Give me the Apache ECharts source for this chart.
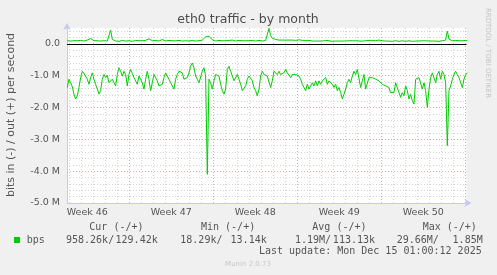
<!DOCTYPE html>
<html><head><meta charset="utf-8">
<script src="https://cdn.jsdelivr.net/npm/echarts@6/dist/echarts.min.js"></script>
<style>html,body{margin:0;padding:0;background:#f0f0f0}#c{width:497px;height:275px}</style>
</head><body><div id="c"></div>
<script>
// ---- texts ----
const TITLE = 'eth0 traffic - by month';
const Y_NAME = 'bits in (-) / out (+) per second';
const SIDE_TEXT = 'RRDTOOL / TOBI OETIKER';
const LEGEND_NAME = 'bps';
const COL_HEADERS = ['Cur (-/+)', 'Min (-/+)', 'Avg (-/+)', 'Max (-/+)'];
const COL_IN = ['958.26k/', '18.29k/', '1.19M/', '29.66M/'];
const COL_OUT = ['129.42k', '13.14k', '113.13k', '1.85M'];
const LAST_UPDATE = 'Last update: Mon Dec 15 01:00:12 2025';
const FOOTER = 'Munin 2.0.73';

// ---- x axis (days since Mon 10 Nov 2025 00:00) ----
const WEEK_LABELS = ['Week 46', 'Week 47', 'Week 48', 'Week 49', 'Week 50'];
const WEEK_CENTERS = [3.5, 10.5, 17.5, 24.5, 31.5];
const WEEK_STARTS = [7, 14, 21, 28, 35];
const X_MIN = 1.81, X_MAX = 35.1;
const T0 = 1.835, STEP = 5 / 36;   // sample times (days)

// ---- y axis (M bits/s) ----
const Y_MAJOR = [-5, -4, -3, -2, -1, 0];
const Y_MIN = -5, Y_MAX = 0.5;

// ---- series (M bits/s) ----
const OUT_M = [
 0.10,0.12,0.09,0.11,0.10,0.08,0.10,0.13,0.11,0.10, 0.09,0.10,0.12,0.14,0.17,0.13,0.10,0.09,0.10,0.11,
 0.09,0.08,0.10,0.10,0.09,0.12, 0.44,
 0.14,0.10,0.09,0.10,0.08,0.09,0.11,0.10,0.09,0.12, 0.10,0.09,0.08,0.10,0.11,0.09,0.10,0.12,0.10,0.09,
 0.11,0.13,0.16,0.12,
 0.10,0.09,0.11,0.10,0.09,0.12,0.14,0.10,0.09,0.10, 0.11,0.12,0.10,0.09,0.10,0.13,0.11,0.10,0.09,0.11,
 0.10,0.12,0.09,0.10,0.11,0.10,0.09,0.12,0.10,0.11,
 0.12,0.18,0.22,0.21,0.24,0.20,0.13,0.10,0.09,0.10,
 0.11,0.09,0.10,0.12,0.10,0.09,0.11,0.10,0.12,0.10, 0.09,0.10,0.11,0.09,0.10,0.12,0.10,0.11,0.10,0.09,
 0.11,0.10,0.09,0.10,0.11,0.10,0.09,0.10,0.11,0.12,
 0.49,
 0.26,0.18,0.15,0.14,0.13,0.12,0.13,0.12,0.11,0.12, 0.13,0.12,0.11,0.12,0.12,0.11,0.12,0.13,0.12,0.11,
 0.12,0.11,0.10,0.11,0.10,0.09,0.10,0.09,0.10,
 0.09,0.10,0.09,0.10,0.11,0.09,0.10,0.09,0.08,0.10, 0.09,0.10,0.09,0.11,0.09,0.10,0.09,0.08,0.10,0.09,
 0.10,0.09,0.10,0.08,0.09,0.10,0.09,0.11,0.10,0.09,
 0.11,0.12,0.11,0.12,0.10,0.11,0.12,0.11,0.10,0.11, 0.09,0.08,0.09,0.10,0.08,0.09,0.10,0.09,0.08,0.09,
 0.10,0.09,0.08,0.09,0.10,0.09,0.08,0.10,0.09,0.10, 0.09,0.08,0.10,0.09,0.10,0.11,0.09,0.08,0.09,0.10,
 0.09,0.10,0.08,0.09,0.10,0.12,
 0.12,0.40,0.15,
 0.11,0.10,0.10,0.11,0.10,0.10,0.11,0.10,0.10,0.11,0.10
];
const IN_M = [
 -1.37,-1.11,-1.16,-1.34,-1.58,-1.73,-1.63,-1.37,-1.06,-0.86,
 -0.93,-0.89,-1.11,-1.27,-1.06,-0.91,-1.11,-1.27,-1.42,-1.58,
 -1.47,-1.11,-0.96,-1.06,-0.99,-1.22,-1.27,-1.11,-1.22,-1.32,
 -0.96,-0.75,-0.86,-1.01,-0.86,-0.96,-1.32,-0.96,-0.80,-0.86,
 -1.06,-1.06,-1.27,-1.01,-1.11,-1.22,-1.42,-1.11,-0.86,-1.11,
 -1.47,-1.22,-0.96,-1.01,-1.16,-1.32,-1.37,-1.27,-1.06,-0.91,
 -0.96,-1.11,-1.22,-1.27,-1.42,-1.11,-0.96,-0.86,-0.80,-0.91,
 -1.11,-1.16,-1.06,-0.91,-0.70,-0.60,-0.75,-1.01,-1.11,-1.22,
 -1.16,-0.86,-0.75,-1.01,-4.10,-1.11,-1.22,-1.42,-1.16,-0.96,
 -0.91,-1.01,-1.27,-1.47,-1.58,-1.42,-0.80,-0.70,-0.86,-1.01,
 -1.16,-1.22,-0.96,-1.11,-1.27,-1.47,-1.53,-1.32,-1.11,-1.01,
 -1.06,-1.16,-1.37,-1.47,-1.63,-1.42,-1.01,-0.86,-0.96,-0.91,
 -1.01,-1.06,-1.37,-1.16,-0.86,-0.80,-0.96,-0.86,-0.96,-1.01,
 -0.91,-0.80,-0.91,-0.96,-1.06,-0.96,-1.01,-0.96,-0.96,-1.01,
 -1.11,-1.27,-1.37,-1.47,-1.27,-1.42,-1.32,-1.22,-1.32,-1.16,
 -1.32,-1.16,-1.27,-1.16,-1.11,-1.06,-1.27,-1.16,-1.11,-1.27,
 -1.37,-1.27,-1.47,-1.37,-1.53,-1.73,-1.58,-1.42,-1.22,-1.11,
 -1.22,-1.01,-0.86,-0.96,-0.80,-0.86,-1.37,-1.16,-0.96,-1.42,
 -1.47,-1.06,-1.01,-1.06,-1.01,-1.11,-1.06,-1.16,-1.11,-1.27,
 -1.27,-1.32,-1.32,-1.37,-1.53,-1.58,-1.53,-1.22,-1.27,-1.53,
 -1.68,-1.53,-1.63,-1.32,-1.47,-1.73,-1.58,-1.78,-1.89,-1.11,
 -1.16,-1.06,-1.11,-1.42,-1.22,-1.47,-1.99,-1.42,-1.06,-0.91,
 -0.96,-1.22,-0.96,-0.86,-1.11,-0.86,-0.96,-1.22,-3.20,-1.47,
 -1.32,-1.11,-0.96,-0.86,-0.96,-1.06,-1.11,-1.37,-1.11,-0.96,
 -0.91
];

const GREEN = '#00cc00';
const TXT = '#555555';
const AXIS_C = '#c8c8f0';
const MINOR_C = '#d4d4d4';
const MAJOR_C = '#e6a4a4';

const dayMinor = [];
for (let d = Math.ceil(X_MIN); d <= X_MAX; d++) if (d % 7 !== 0) dayMinor.push(d);
const yMinor = [];
for (let k = Y_MIN * 5; k <= Y_MAX * 5; k++) if (k % 5 !== 0) yMinor.push(k / 5);

const toPairs = arr => arr.map((v, i) => [T0 + i * STEP, v]);

const chart = echarts.init(document.getElementById('c'), null, {renderer: 'canvas'});
const mono = '10px "DejaVu Sans Mono"';
const txt = (text, x, y, align, font, fill) => ({
  type: 'text', x, y, silent: true,
  style: {text, font: font || mono, fill: fill || TXT, align, textAlign: align,
          verticalAlign: 'middle', textVerticalAlign: 'middle'}
});
const colX = [66, 180.3, 295, 396.7];
const colOutRight = [157.7, 266.7, 375, 482.7];
const headX = [89.3, 201, 312.3, 422.7];
const graphics = [
  txt(TITLE, 248, 20, 'center', '12.5px "DejaVu Sans"', '#4c4c4c'),
  Object.assign(txt(Y_NAME, 11, 115, 'center', '11px "DejaVu Sans"'), {rotation: Math.PI / 2}),
  Object.assign(txt(SIDE_TEXT, 488, 53, 'center', '7px "DejaVu Sans"', '#c4c4c4'), {rotation: -Math.PI / 2}),
  {type: 'rect', shape: {x: 14, y: 237, width: 6, height: 6}, style: {fill: GREEN}, silent: true},
  txt(LEGEND_NAME, 26.7, 240, 'left'),
  txt(LAST_UPDATE, 481.7, 251.7, 'right'),
  txt(FOOTER, 248, 264, 'center', '7px "DejaVu Sans"', '#c8c8c8')
];
COL_HEADERS.forEach((h, i) => graphics.push(txt(h, headX[i], 227.5, 'left')));
COL_IN.forEach((s, i) => graphics.push(txt(s, colX[i], 240, 'left')));
COL_OUT.forEach((s, i) => graphics.push(txt(s, colOutRight[i], 240, 'right')));

const baseX = {
  type: 'value', min: X_MIN, max: X_MAX, position: 'bottom',
  axisLine: {show: false, onZero: false}, axisLabel: {show: false}, axisTick: {show: false}
};
const baseY = {
  type: 'value', min: Y_MIN, max: Y_MAX, position: 'left',
  axisLine: {show: false, onZero: false}, axisLabel: {show: false}, axisTick: {show: false}
};

chart.setOption({
  animation: false,
  backgroundColor: '#f0f0f0',
  grid: {left: 67, right: 30.5, top: 28, bottom: 72, show: true, backgroundColor: '#ffffff', borderWidth: 0},
  xAxis: [
    Object.assign({}, baseX, {
      axisTick: {show: false, customValues: dayMinor},
      splitLine: {show: true, lineStyle: {color: MINOR_C, width: 1, type: [1, 2]}}
    }),
    Object.assign({}, baseX, {
      axisTick: {show: false, customValues: WEEK_STARTS},
      splitLine: {show: true, lineStyle: {color: MAJOR_C, width: 1, type: [1, 2]}},
      axisLabel: {show: true, customValues: WEEK_CENTERS, margin: 5, color: TXT,
        fontFamily: 'DejaVu Sans', fontSize: 9.5,
        formatter: v => WEEK_LABELS[WEEK_CENTERS.indexOf(v)] || ''}
    }),
    Object.assign({}, baseX, {
      axisLine: {show: true, onZero: false, lineStyle: {color: AXIS_C, width: 1},
        symbol: ['none', 'arrow'], symbolSize: [6, 7], symbolOffset: [0, 5]},
      splitLine: {show: false}
    })
  ],
  yAxis: [
    Object.assign({}, baseY, {
      axisTick: {show: false, customValues: yMinor},
      splitLine: {show: true, lineStyle: {color: MINOR_C, width: 1, type: [1, 2]}}
    }),
    Object.assign({}, baseY, {
      axisTick: {show: false, customValues: Y_MAJOR},
      splitLine: {show: true, lineStyle: {color: MAJOR_C, width: 1, type: [1, 2]}},
      axisLabel: {show: true, customValues: Y_MAJOR, margin: 7, color: TXT,
        fontFamily: 'DejaVu Sans', fontSize: 9.5,
        formatter: v => v === 0 ? '0.0' : v.toFixed(1) + ' M'}
    }),
    Object.assign({}, baseY, {
      axisLine: {show: true, onZero: false, lineStyle: {color: AXIS_C, width: 1},
        symbol: ['none', 'arrow'], symbolSize: [6, 7], symbolOffset: [0, 5]},
      splitLine: {show: false}
    })
  ],
  series: [
    {
      name: 'out', type: 'line', xAxisIndex: 0, yAxisIndex: 0, data: toPairs(OUT_M),
      symbol: 'none', showSymbol: false, lineStyle: {color: GREEN, width: 1}, itemStyle: {color: GREEN}, z: 3,
      markLine: {silent: true, symbol: ['none', 'none'], label: {show: false},
        lineStyle: {color: '#000000', width: 1, type: 'solid'}, data: [{yAxis: 0}], z: 2}
    },
    {
      name: 'in', type: 'line', xAxisIndex: 0, yAxisIndex: 0, data: toPairs(IN_M),
      symbol: 'none', showSymbol: false, lineStyle: {color: GREEN, width: 1}, itemStyle: {color: GREEN}, z: 3
    }
  ],
  graphic: graphics
});
</script>
</body></html>
